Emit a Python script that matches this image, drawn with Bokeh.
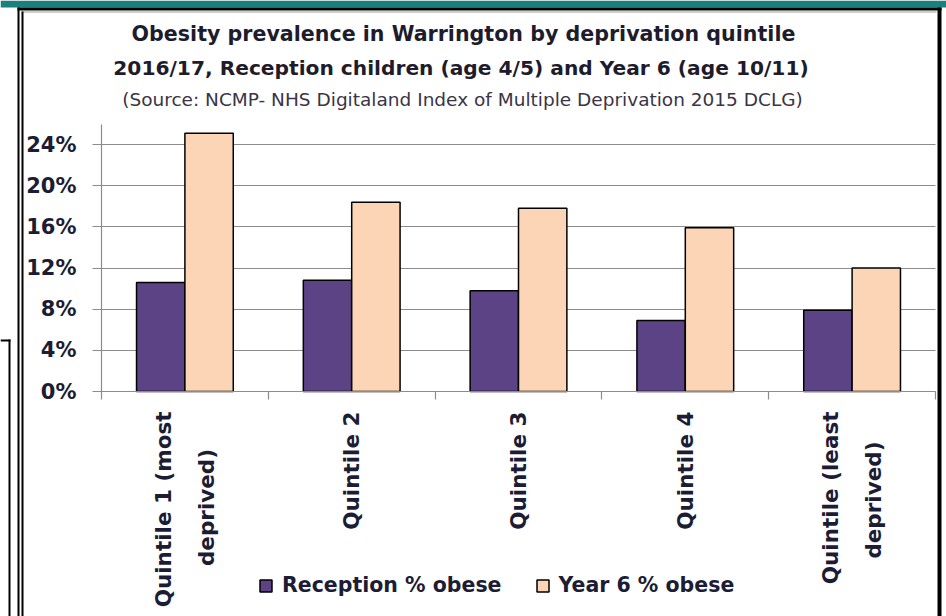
import math
from bokeh.plotting import figure
from bokeh.models import (ColumnDataSource, Range1d, LinearAxis, Label, BoxAnnotation,
                          FixedTicker, PrintfTickFormatter, Legend, LegendItem)
from bokeh.transform import dodge
from bokeh.embed import file_html
from bokeh.resources import INLINE

# ---- data ----
categories = ["Quintile 1 (most\ndeprived)", "Quintile 2", "Quintile 3", "Quintile 4",
              "Quintile (least\ndeprived)"]
reception_pct = [10.6, 10.8, 9.8, 6.9, 7.9]
year6_pct = [25.1, 18.4, 17.8, 15.9, 12.0]
y_ticks = [0, 4, 8, 12, 16, 20, 24]
y_axis_top = 25.9
series_names = ["Reception % obese", "Year 6 % obese"]
title_lines = ["Obesity prevalence in Warrington by deprivation quintile",
               "2016/17,  Reception children (age 4/5) and Year 6 (age 10/11)",
               "(Source: NCMP- NHS Digitaland Index of Multiple Deprivation 2015 DCLG)"]

n = len(categories)
centers = [i + 0.5 for i in range(n)]          # category slot centres on a 0..n axis
edges = list(range(n + 1))
source = ColumnDataSource(dict(x=centers, reception=reception_pct, year6=year6_pct))

W, H = 946, 616
X0, X1 = 101, 935          # pixel columns of category axis start / end
Y0, Y24 = 391, 144         # pixel rows of 0% and 24%
px_per_cat = (X1 - X0) / n
px_per_pct = (Y0 - Y24) / 24.0

GRID = "#8c8c8c"
TXT = "#1c1c34"
LABEL_PX = 21.5

# approximate DejaVu Sans Bold advance widths (em) used to centre two-line tick labels
_W = {" ": 0.348, "(": 0.457, ")": 0.457, "1": 0.696, "Q": 0.850, "u": 0.712, "i": 0.343,
      "n": 0.712, "t": 0.478, "l": 0.343, "e": 0.678, "m": 1.042, "o": 0.687, "s": 0.595,
      "d": 0.716, "p": 0.716, "r": 0.493, "v": 0.652, "a": 0.675}


def text_w(s):
    return sum(_W.get(c, 0.68) for c in s)


def centred_lines(label):
    lines = label.split("\n")
    if len(lines) == 1:
        return label
    longest = max(text_w(l) for l in lines)
    out = []
    for l in lines:
        pad = int(round((longest - text_w(l)) / 2 / 0.348))
        out.append(l + "\u00a0" * pad)
    return "\n".join(out)


p = figure(x_range=Range1d(-X0 / px_per_cat, (W - X0) / px_per_cat),
           y_range=Range1d(-(H - Y0) / px_per_pct, Y0 / px_per_pct),
           width=W, height=H, output_backend="svg", toolbar_location=None,
           x_axis_location=None, y_axis_location=None, min_border=0)
p.outline_line_color = None
p.background_fill_color = "white"
p.border_fill_color = "white"
p.xgrid.visible = False
p.ygrid.visible = False

# y axis (its inward ticks form the horizontal gridlines, drawn beneath the bars)
ya = LinearAxis(fixed_location=0, bounds=(0, y_axis_top), level="underlay",
                ticker=FixedTicker(ticks=y_ticks), formatter=PrintfTickFormatter(format="%d%%"),
                axis_line_color=GRID, axis_line_width=1.2,
                major_tick_line_color=GRID, major_tick_line_width=1.2,
                major_tick_out=9, major_tick_in=X1 - X0, minor_tick_line_color=None,
                major_label_standoff=16, major_label_text_font="DejaVu Sans",
                major_label_text_font_style="bold", major_label_text_font_size="21px",
                major_label_text_color=TXT)
p.add_layout(ya, "left")

# x axis: boundary ticks (Excel style) + category labels
edge_axis = LinearAxis(fixed_location=0, bounds=(0, n), ticker=FixedTicker(ticks=edges),
                       major_label_overrides={e: "" for e in edges},
                       axis_line_color=GRID, axis_line_width=1.2,
                       major_tick_line_color=GRID, major_tick_line_width=1.2,
                       major_tick_out=8, major_tick_in=0, minor_tick_line_color=None,
                       major_label_text_font_size="1px", major_label_standoff=0)
p.add_layout(edge_axis, "below")

cat_axis = LinearAxis(fixed_location=0, ticker=FixedTicker(ticks=centers),
                      major_label_overrides={c: centred_lines(lab) for c, lab in zip(centers, categories)},
                      axis_line_color=None, major_tick_line_color=None, minor_tick_line_color=None,
                      major_tick_out=0, major_tick_in=0,
                      major_label_orientation=math.pi / 2,
                      major_label_standoff=20,
                      major_label_text_font="DejaVu Sans",
                      major_label_text_font_style="bold",
                      major_label_text_font_size=f"{LABEL_PX}px",
                      major_label_text_color=TXT,
                      major_label_text_line_height=1.7)
p.add_layout(cat_axis, "below")

# bars
r1 = p.vbar(x=dodge("x", -0.145), top="reception", width=0.29, source=source,
            fill_color="#5b4385", line_color="black", line_width=1.5)
r2 = p.vbar(x=dodge("x", 0.145), top="year6", width=0.29, source=source,
            fill_color="#fbd5b5", line_color="black", line_width=1.5)

legend = Legend(items=[LegendItem(label=series_names[0], renderers=[r1]),
                       LegendItem(label=series_names[1], renderers=[r2])],
                location=(258, H - 597), orientation="horizontal",
                border_line_color=None, background_fill_alpha=0,
                label_text_font="DejaVu Sans", label_text_font_style="bold",
                label_text_font_size="20.5px", label_text_color=TXT,
                glyph_width=15, glyph_height=15, label_standoff=9, spacing=33,
                padding=0, margin=0)
p.add_layout(legend)

# titles
specs = [(title_lines[0], 463, 33, "bold", "20.6px", "#1e1c2c"),
         (title_lines[1], 464, 67, "bold", "20.2px", "#1e1c2c"),
         (title_lines[2], 462, 99, "normal", "18.5px", "#3a3446")]
for t, cx, cy, st, sz, col in specs:
    p.add_layout(Label(x=cx, y=H - cy, x_units="screen", y_units="screen", text=t,
                       text_align="center", text_baseline="middle", text_font="DejaVu Sans",
                       text_font_style=st, text_font_size=sz, text_color=col))


# frame decorations of the scanned chart box (screen units)
def rule(l, r, top_px, bottom_px, color="black"):
    p.add_layout(BoxAnnotation(left=l, right=r, top=H - top_px, bottom=H - bottom_px,
                               left_units="screen", right_units="screen",
                               top_units="screen", bottom_units="screen",
                               fill_color=color, fill_alpha=1, line_color=None, line_alpha=0))


rule(0, W, 0, 7, "#1b7f7b")        # teal band
rule(17, 941, 7, 10)               # top black rule
rule(21, 936, 11, 12, "#9a9a9a")   # inner grey rule
rule(17, 19, 7, H)                 # left double rule
rule(21, 23, 11, H)
rule(937, 941, 7, H)               # right rule
rule(8, 10, 339, H)                # neighbouring box edge
rule(0, 10, 339, 341)

open("out.html", "w").write(file_html(p, INLINE))
